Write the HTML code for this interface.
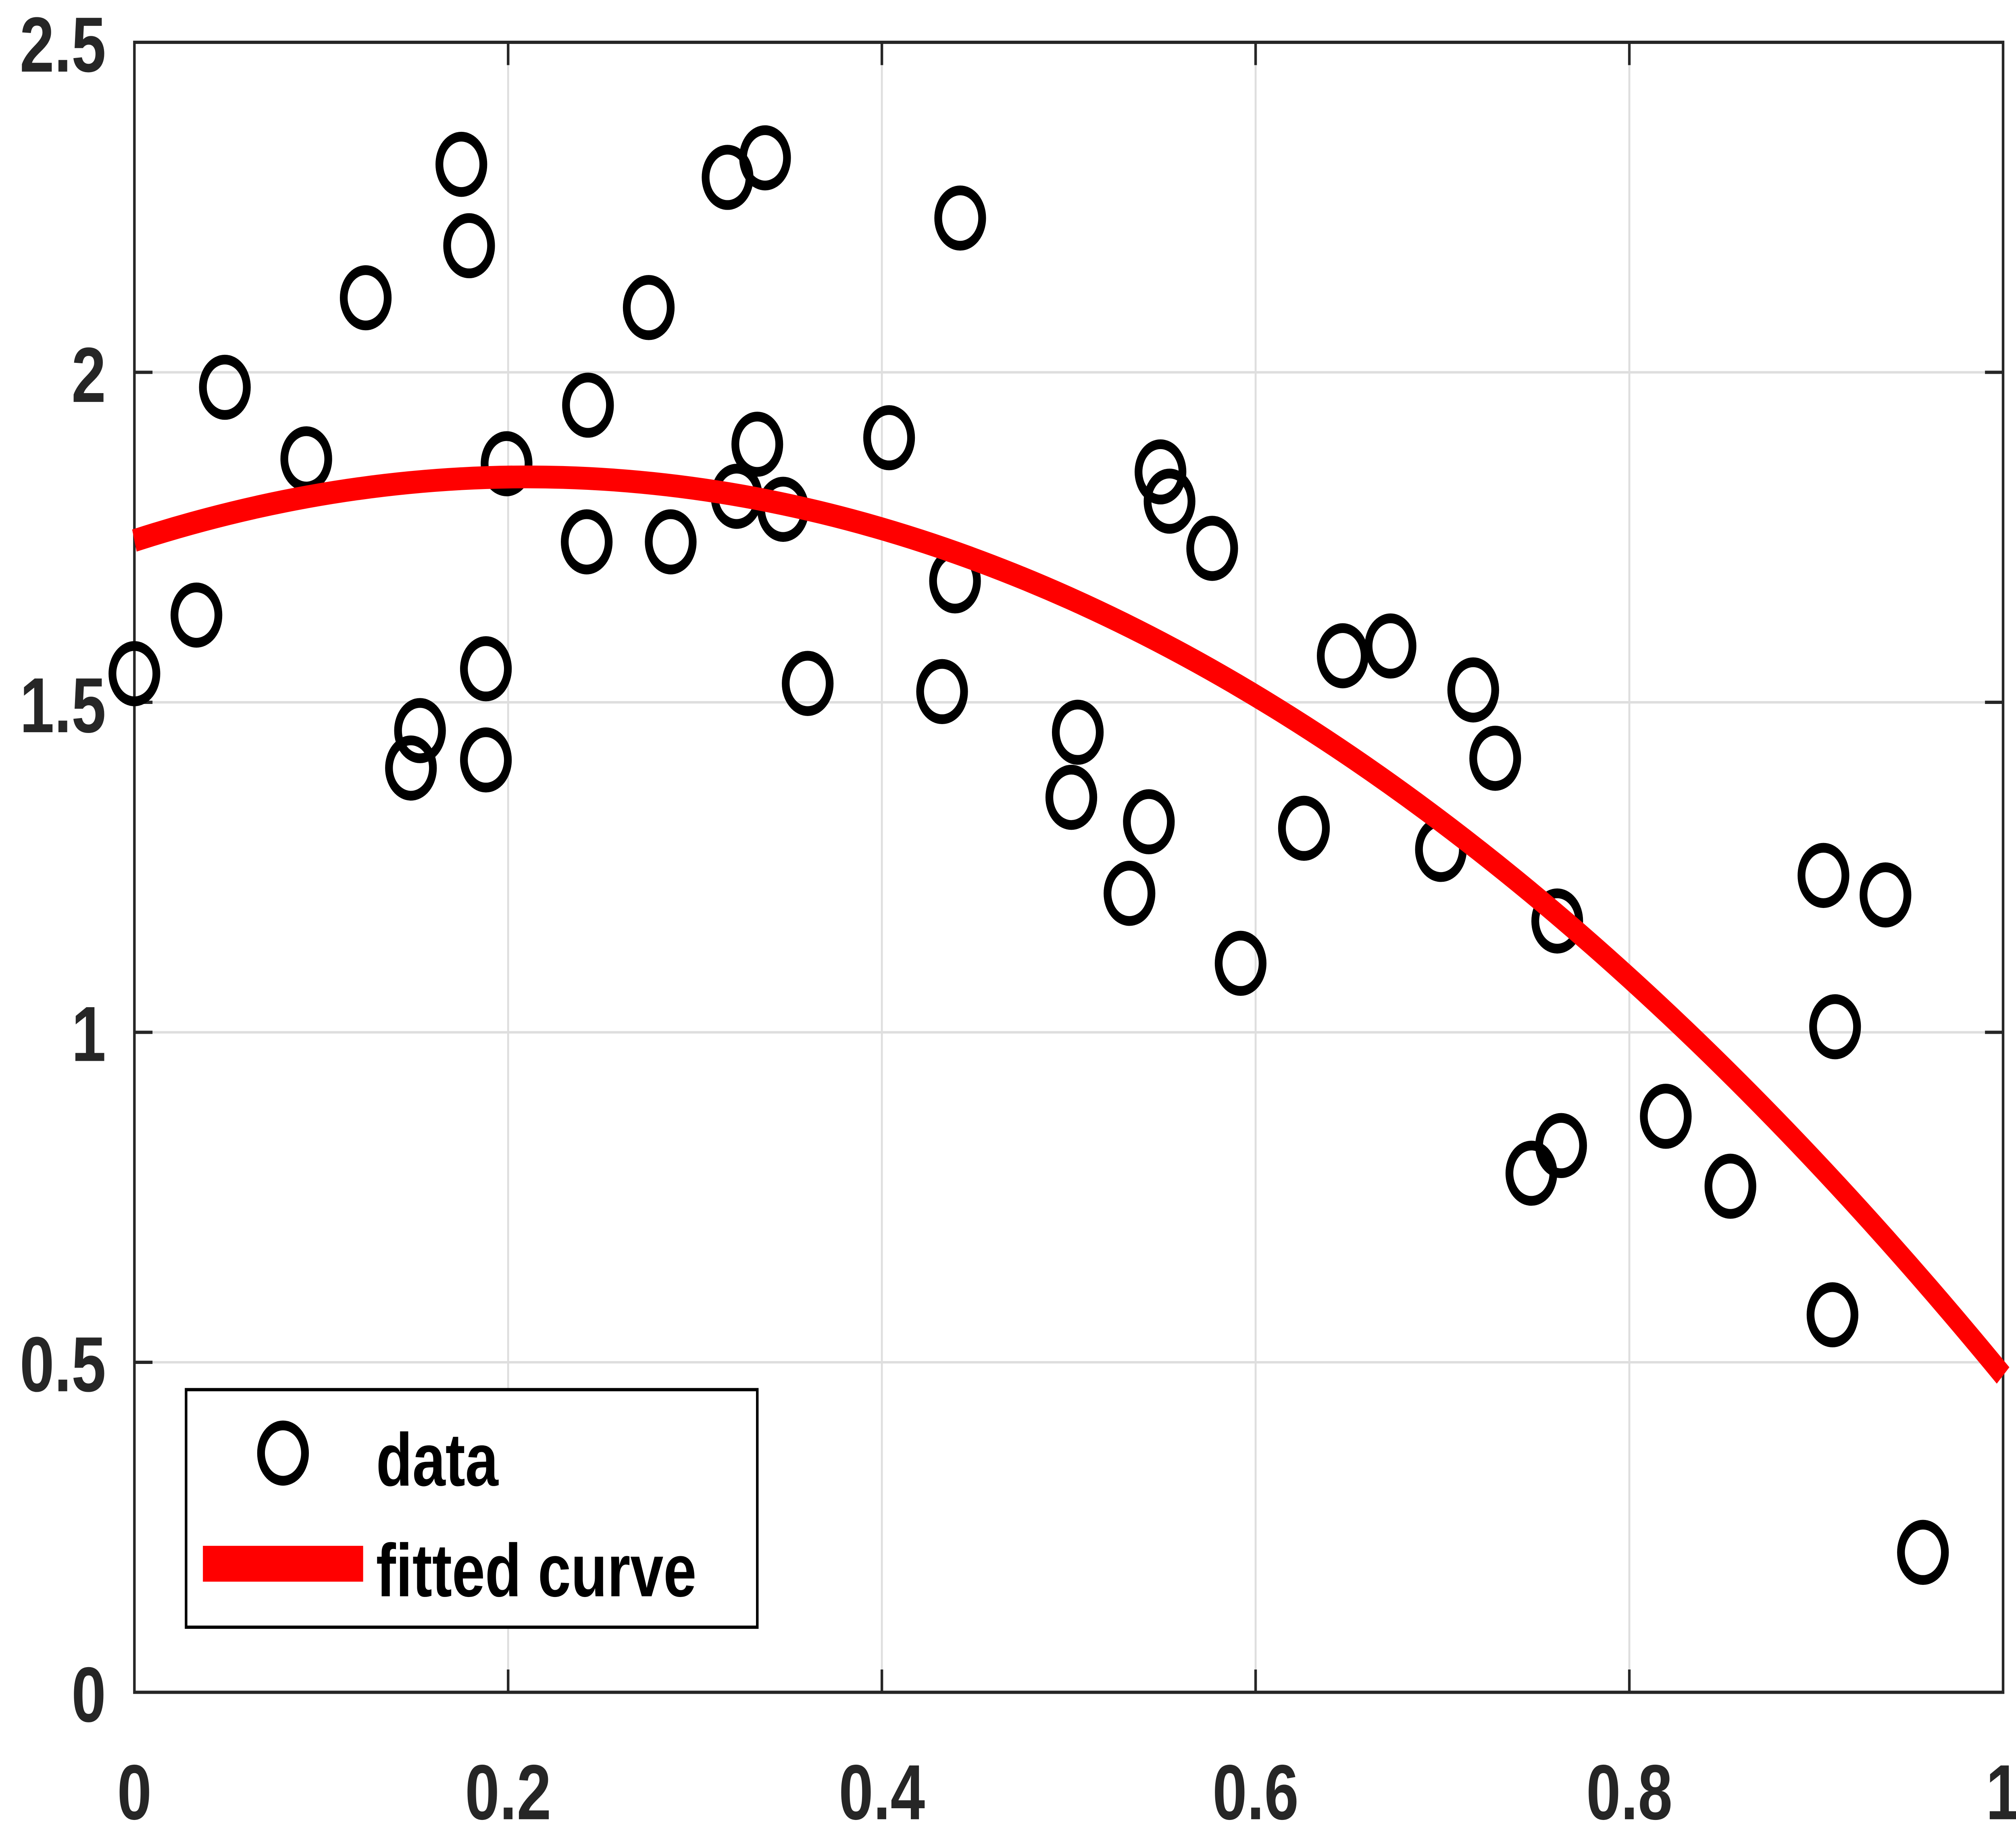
<!DOCTYPE html>
<html><head><style>html,body{margin:0;padding:0;background:#fff;width:100%;height:100%;overflow:hidden}svg{display:block;width:100%;height:100%}</style></head>
<body>
<svg viewBox="0 0 1560 1123.4" preserveAspectRatio="none" xmlns="http://www.w3.org/2000/svg">
<rect width="1560" height="1123.4" fill="#fff"/>
<g stroke="#dedede" stroke-width="1.5">
<line x1="393.2" y1="26" x2="393.2" y2="1040"/>
<line x1="682.4" y1="26" x2="682.4" y2="1040"/>
<line x1="971.6" y1="26" x2="971.6" y2="1040"/>
<line x1="1260.8" y1="26" x2="1260.8" y2="1040"/>
<line x1="104" y1="228.8" x2="1550" y2="228.8"/>
<line x1="104" y1="431.6" x2="1550" y2="431.6"/>
<line x1="104" y1="634.4" x2="1550" y2="634.4"/>
<line x1="104" y1="837.2" x2="1550" y2="837.2"/>
</g>
<g stroke="#262626" stroke-width="2" fill="none">
<rect x="104" y="26" width="1446" height="1014"/>
<path d="M393.2 1040v-14M682.4 1040v-14M971.6 1040v-14M1260.8 1040v-14M393.2 26v14M682.4 26v14M971.6 26v14M1260.8 26v14M104 228.8h14M104 431.6h14M104 634.4h14M104 837.2h14M1550 228.8h-14M1550 431.6h-14M1550 634.4h-14M1550 837.2h-14"/>
</g>
<g fill="none" stroke="#000" stroke-width="6">
<circle cx="104" cy="414" r="17"/><circle cx="152" cy="378" r="17"/><circle cx="174" cy="238" r="17"/><circle cx="237" cy="282" r="17"/><circle cx="283" cy="183" r="17"/><circle cx="318" cy="472" r="17"/><circle cx="325" cy="449" r="17"/><circle cx="357" cy="101" r="17"/><circle cx="363" cy="151" r="17"/><circle cx="376" cy="411" r="17"/><circle cx="376" cy="467" r="17"/><circle cx="392" cy="285" r="17"/><circle cx="454" cy="333" r="17"/><circle cx="455" cy="249" r="17"/><circle cx="502" cy="189" r="17"/><circle cx="519" cy="333" r="17"/><circle cx="563" cy="109" r="17"/><circle cx="570" cy="305" r="17"/><circle cx="586" cy="273" r="17"/><circle cx="592" cy="97" r="17"/><circle cx="606" cy="313" r="17"/><circle cx="625" cy="420" r="17"/><circle cx="688" cy="269" r="17"/><circle cx="729" cy="425" r="17"/><circle cx="739" cy="357" r="17"/><circle cx="743" cy="134" r="17"/><circle cx="829" cy="490" r="17"/><circle cx="834" cy="450" r="17"/><circle cx="874" cy="549" r="17"/><circle cx="889" cy="505" r="17"/><circle cx="898" cy="290" r="17"/><circle cx="905" cy="308" r="17"/><circle cx="938" cy="337" r="17"/><circle cx="960" cy="592" r="17"/><circle cx="1009" cy="509" r="17"/><circle cx="1039" cy="403" r="17"/><circle cx="1076" cy="397" r="17"/><circle cx="1115" cy="522" r="17"/><circle cx="1140" cy="424" r="17"/><circle cx="1157" cy="466" r="17"/><circle cx="1205" cy="566" r="17"/><circle cx="1185" cy="721" r="17"/><circle cx="1208" cy="704" r="17"/><circle cx="1289" cy="686" r="17"/><circle cx="1339" cy="729" r="17"/><circle cx="1411" cy="538" r="17"/><circle cx="1420" cy="631" r="17"/><circle cx="1418" cy="808" r="17"/><circle cx="1459" cy="550" r="17"/><circle cx="1488" cy="954" r="17"/>
</g>
<path d="M104 332.2 Q827 146.1 1550 845.3" fill="none" stroke="#ff0000" stroke-width="14"/>
<g font-family="Liberation Sans, sans-serif" font-weight="bold" font-size="48" fill="#262626">
<g text-anchor="middle">
<text x="104" y="1118">0</text><text x="393.2" y="1118">0.2</text><text x="682.4" y="1118">0.4</text><text x="971.6" y="1118">0.6</text><text x="1260.8" y="1118">0.8</text><text x="1550" y="1118">1</text>
</g>
<g text-anchor="end">
<text x="82" y="1058">0</text><text x="82" y="855">0.5</text><text x="82" y="652">1</text><text x="82" y="450">1.5</text><text x="82" y="247">2</text><text x="82" y="44">2.5</text>
</g>
</g>
<rect x="144" y="854" width="442" height="146" fill="#fff" stroke="#000" stroke-width="2"/>
<circle cx="219" cy="893" r="17" fill="none" stroke="#000" stroke-width="6"/>
<line x1="157" y1="961" x2="281" y2="961" stroke="#ff0000" stroke-width="22"/>
<g font-family="Liberation Sans, sans-serif" font-weight="bold" font-size="46" fill="#000">
<text x="291" y="913">data</text><text x="291" y="981">fitted curve</text>
</g>
</svg>
</body></html>
